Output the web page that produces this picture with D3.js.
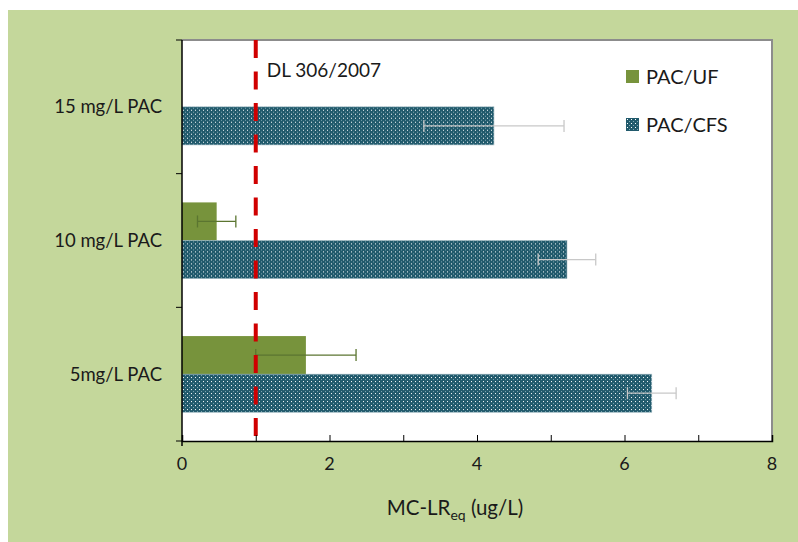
<!DOCTYPE html>
<html>
<head>
<meta charset="utf-8">
<script src="https://cdn.jsdelivr.net/npm/d3@7"></script>
<style>
  body { margin: 0; background: #fff; }
  svg text { font-family: Lato, "Open Sans", sans-serif; fill: #1a1a1a; }
</style>
</head>
<body>
<div id="chart"></div>
<script>
// categories top to bottom as drawn
const categories = ["15 mg/L PAC", "10 mg/L PAC", "5mg/L PAC"];
const seriesNames = ["PAC/UF", "PAC/CFS"];
// values per category (same order as categories); null = no bar
const ufValues = [null, 0.47, 1.68];
const ufErrors = [null, 0.26, 0.68];
const cfsValues = [4.23, 5.22, 6.37];
const cfsErrors = [0.95, 0.39, 0.33];
const xTicks = [0, 2, 4, 6, 8];
const limitValue = 1;
const limitLabel = "DL 306/2007";

const W = 798, H = 542;
const margin = { top: 40, right: 26, bottom: 101, left: 182 };
const width = W - margin.left - margin.right;
const height = H - margin.top - margin.bottom;

const svg = d3.select("#chart").append("svg")
  .attr("width", W)
  .attr("height", H);

// panel background
svg.append("rect")
  .attr("x", 8).attr("y", 10)
  .attr("width", W - 8).attr("height", H - 10)
  .attr("fill", "#c4d79b");

const defs = svg.append("defs");
const pat = defs.append("pattern")
  .attr("id", "dots")
  .attr("width", 4).attr("height", 4)
  .attr("patternUnits", "userSpaceOnUse");
pat.append("rect").attr("width", 4).attr("height", 4).attr("fill", "#215a6c");
pat.append("rect").attr("x", 1).attr("y", 1).attr("width", 1).attr("height", 1).attr("fill", "#ffffff");
pat.append("rect").attr("x", 3).attr("y", 3).attr("width", 1).attr("height", 1).attr("fill", "#7fa7b3");

const g = svg.append("g")
  .attr("transform", `translate(${margin.left},${margin.top})`);

// plot area
g.append("rect")
  .attr("width", width).attr("height", height)
  .attr("fill", "#fff");
// grey frame top / right
g.append("path")
  .attr("d", `M0,0H${width}V${height}`)
  .attr("fill", "none")
  .attr("stroke", "#8c8c8c")
  .attr("stroke-width", 2);

const x = d3.scaleLinear().domain([0, 8]).range([0, width]);
const y0 = d3.scaleBand().domain(categories).range([0, height])
  .paddingInner(0.43).paddingOuter(0.215);
const y1 = d3.scaleBand().domain(seriesNames).range([0, y0.bandwidth()]);

const rows = categories.map((c, i) => ({
  cat: c,
  bars: [
    { s: "PAC/UF", v: ufValues[i], e: ufErrors[i] },
    { s: "PAC/CFS", v: cfsValues[i], e: cfsErrors[i] }
  ]
}));

const fills = { "PAC/UF": "#77933c", "PAC/CFS": "url(#dots)" };
const errColors = { "PAC/UF": "#5b7530", "PAC/CFS": "#c8c8c8" };

const grp = g.selectAll(".grp")
  .data(rows)
  .enter().append("g")
  .attr("class", "grp")
  .attr("transform", d => `translate(0,${y0(d.cat)})`);

const bar = grp.selectAll(".bar")
  .data(d => d.bars.filter(b => b.v != null))
  .enter().append("g")
  .attr("class", "bar");

bar.append("rect")
  .attr("x", 0)
  .attr("y", d => y1(d.s))
  .attr("width", d => x(d.v))
  .attr("height", y1.bandwidth())
  .attr("fill", d => fills[d.s])
  .attr("stroke", d => d.s === "PAC/CFS" ? "#9fb9c2" : "none")
  .attr("stroke-width", 0.6);

// error bars
const cap = 6;
bar.append("line")
  .attr("x1", d => x(d.v - d.e)).attr("x2", d => x(d.v + d.e))
  .attr("y1", d => y1(d.s) + y1.bandwidth() / 2)
  .attr("y2", d => y1(d.s) + y1.bandwidth() / 2)
  .attr("stroke", d => errColors[d.s]).attr("stroke-width", 1.3);
bar.selectAll(".cap")
  .data(d => [d.v - d.e, d.v + d.e].map(v => ({ v, s: d.s })))
  .enter().append("line")
  .attr("class", "cap")
  .attr("x1", d => x(d.v)).attr("x2", d => x(d.v))
  .attr("y1", d => y1(d.s) + y1.bandwidth() / 2 - cap)
  .attr("y2", d => y1(d.s) + y1.bandwidth() / 2 + cap)
  .attr("stroke", d => errColors[d.s]).attr("stroke-width", 1.3);

// limit line
g.append("line")
  .attr("x1", x(limitValue)).attr("x2", x(limitValue))
  .attr("y1", 0).attr("y2", height)
  .attr("stroke", "#d00000")
  .attr("stroke-width", 4)
  .attr("stroke-dasharray", "18,13.5");
g.append("text")
  .attr("x", x(limitValue) + 11).attr("y", 37)
  .attr("font-size", 19)
  .text(limitLabel);

// x axis
const xAxis = g.append("g")
  .attr("transform", `translate(0,${height})`)
  .call(d3.axisBottom(x).tickValues(d3.range(0, 9, 1)).tickSize(-6).tickFormat(""));
xAxis.select(".domain").attr("stroke", "#000").attr("stroke-width", 1.5);
xAxis.selectAll(".tick line").attr("stroke", "#000");
g.append("g")
  .attr("transform", `translate(0,${height})`)
  .selectAll("text")
  .data(xTicks)
  .enter().append("text")
  .attr("x", d => x(d))
  .attr("y", 29)
  .attr("text-anchor", "middle")
  .attr("font-size", 18)
  .text(d => d);

// y axis
const yBounds = d3.range(0, categories.length + 1).map(i => i * height / categories.length);
g.append("line")
  .attr("x1", 0).attr("x2", 0).attr("y1", 0).attr("y2", height + 5)
  .attr("stroke", "#000").attr("stroke-width", 1.5);
g.selectAll(".ytick")
  .data(yBounds)
  .enter().append("line")
  .attr("class", "ytick")
  .attr("x1", -6).attr("x2", 0)
  .attr("y1", d => d).attr("y2", d => d)
  .attr("stroke", "#000");
g.selectAll(".ylab")
  .data(categories)
  .enter().append("text")
  .attr("class", "ylab")
  .attr("x", -20)
  .attr("y", d => y0(d) + y0.bandwidth() / 2)
  .attr("dy", "0.35em")
  .attr("text-anchor", "end")
  .attr("font-size", 18.5)
  .text(d => d);

// axis title
const title = svg.append("text")
  .attr("x", 455)
  .attr("y", 515)
  .attr("text-anchor", "middle")
  .attr("font-size", 20.5);
title.append("tspan").text("MC-LR");
title.append("tspan").attr("dy", 5).attr("font-size", 14).text("eq");
title.append("tspan").attr("dy", -5).text(" (ug/L)");

// legend
const legend = svg.append("g").attr("transform", "translate(626,70)");
const li = legend.selectAll(".li")
  .data(seriesNames)
  .enter().append("g")
  .attr("class", "li")
  .attr("transform", (d, i) => `translate(0,${i * 48})`);
li.append("rect")
  .attr("width", 13).attr("height", 13)
  .attr("fill", d => fills[d]);
li.append("text")
  .attr("x", 20).attr("y", 14)
  .attr("font-size", 20)
  .text(d => d);
</script>
</body>
</html>
